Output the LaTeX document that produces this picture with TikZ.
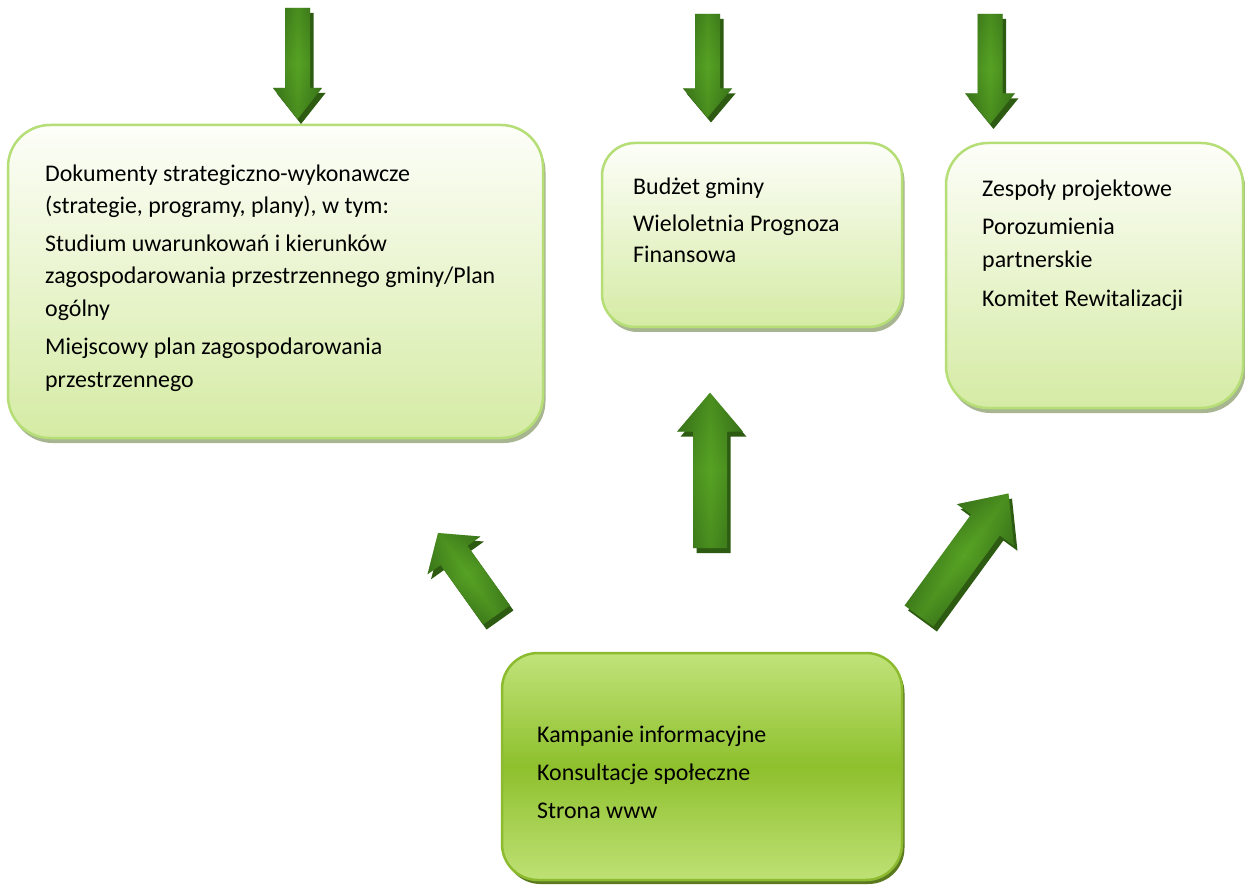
\documentclass[tikz,border=0pt]{standalone}
\usepackage{fontspec}
\setmainfont{Carlito}
\usetikzlibrary{shadows}
\definecolor{boxborder}{HTML}{B6DE76}
\definecolor{boxtop}{HTML}{FDFEF9}
\definecolor{boxbottom}{HTML}{D5EBA4}
\definecolor{boxshadow}{HTML}{A8B591}
\definecolor{bfourtop}{HTML}{C1E37A}
\definecolor{bfourmid}{HTML}{8EC02D}
\definecolor{bfourbot}{HTML}{BFE175}
\definecolor{bfourborder}{HTML}{8DBB30}
\definecolor{bfourshadow}{HTML}{5B7A20}
\definecolor{arrowedge}{HTML}{2C6016}
\definecolor{arrowmid}{HTML}{57A324}
\definecolor{arrowlong}{HTML}{3A7419}
\definecolor{arrowshadow}{HTML}{2D5B12}
\newcommand{\arrowpath}[4]{(0,{-#2}) -- ({#1-#4},{-#2}) -- ({#1-#4},{-#3}) -- (#1,0) -- ({#1-#4},{#3}) -- ({#1-#4},{#2}) -- (0,{#2}) -- cycle}
\newcommand{\garrow}[7]{%
  \fill[arrowshadow, transform canvas={shift={({#1+3.5},{#2+5})},rotate=#3}]
    (0,{-#5}) -- ({#4-#7},{-#5}) -- ({#4-#7},{-#6}) -- (#4,0) -- ({#4-#7},{#6}) -- ({#4-#7},{#5}) -- (0,{#5}) -- cycle;
  \shade[top color=arrowedge, bottom color=arrowedge, middle color=arrowmid, transform canvas={shift={(#1,#2)},rotate=#3}]
    (0,{-#5}) -- ({#4-#7},{-#5}) -- ({#4-#7},{-#6}) -- (#4,0) -- ({#4-#7},{#6}) -- ({#4-#7},{#5}) -- (0,{#5}) -- cycle;
  \shade[left color=arrowlong, right color=arrowlong, middle color=arrowmid, opacity=0.45, transform canvas={shift={(#1,#2)},rotate=#3}]
    (0,{-#5}) -- ({#4-#7},{-#5}) -- ({#4-#7},{-#6}) -- (#4,0) -- ({#4-#7},{#6}) -- ({#4-#7},{#5}) -- (0,{#5}) -- cycle;
}
\tikzset{
  box/.style={draw=boxborder, line width=2.5pt, rounded corners=#1, top color=boxtop, bottom color=boxbottom,
    general shadow={fill=boxshadow, shadow xshift=2.5pt, shadow yshift=-5pt}, inner sep=0pt},
  boxfour/.style={draw=bfourborder, line width=2.5pt, rounded corners=36pt, top color=bfourtop, bottom color=bfourbot, middle color=bfourmid,
    general shadow={fill=bfourshadow, shadow xshift=2.5pt, shadow yshift=-4pt}, inner sep=0pt},
  txt/.style={anchor=base west, inner sep=0pt, text=black, font=\fontsize{23.9}{28}\selectfont}
}
\begin{document}
\begin{tikzpicture}[x=1pt,y=-1pt]
\useasboundingbox[fill=white] (0,0) rectangle (1245,885);

% boxes
\node[box=42pt, minimum width=535pt, minimum height=313pt] (b1) at (275.5,281.5) {};
\node[box=33pt, minimum width=300pt, minimum height=184pt] (b2) at (752,235) {};
\node[box=42pt, minimum width=297pt, minimum height=265pt] (b3) at (1094.5,275.5) {};
\node[boxfour, minimum width=400pt, minimum height=227pt] (b4) at (702,766.5) {};

% arrows: tail x, tail y, angle, length, half shaft, half head, head length
\garrow{297.5}{8}{-90}{111}{12.5}{24.5}{31}
\garrow{707.5}{14}{-90}{103.5}{12.5}{24.5}{29}
\garrow{990}{14}{-90}{110}{12.5}{25}{30.7}
\garrow{710}{548}{90}{155.3}{17}{33}{39}
\garrow{496.5}{615}{125.5}{100.7}{16.5}{32.5}{27.5}
\garrow{919}{616}{53.85}{151.7}{17.8}{35.3}{39}

% texts
\node[txt] (t1a) at (45,182) {Dokumenty strategiczno-wykonawcze};
\node[txt] (t1b) at (45,214) {(strategie, programy, plany), w tym:};
\node[txt] (t1c) at (45,252) {Studium uwarunkowań i kierunków};
\node[txt] (t1d) at (45,284) {zagospodarowania przestrzennego gminy/Plan};
\node[txt] (t1e) at (45,317) {ogólny};
\node[txt] (t1f) at (45,355) {Miejscowy plan zagospodarowania};
\node[txt] (t1g) at (45,387) {przestrzennego};

\node[txt] (t2a) at (633,195) {Budżet gminy};
\node[txt] (t2b) at (633,232) {Wieloletnia Prognoza};
\node[txt] (t2c) at (633,263) {Finansowa};

\node[txt] (t3a) at (982,197) {Zespoły projektowe};
\node[txt] (t3b) at (982,235) {Porozumienia};
\node[txt] (t3c) at (982,268) {partnerskie};
\node[txt] (t3d) at (982,307) {Komitet Rewitalizacji};

\node[txt] (t4a) at (537,742) {Kampanie informacyjne};
\node[txt] (t4b) at (537,780) {Konsultacje społeczne};
\node[txt] (t4c) at (537,818) {Strona www};
\end{tikzpicture}
\end{document}
